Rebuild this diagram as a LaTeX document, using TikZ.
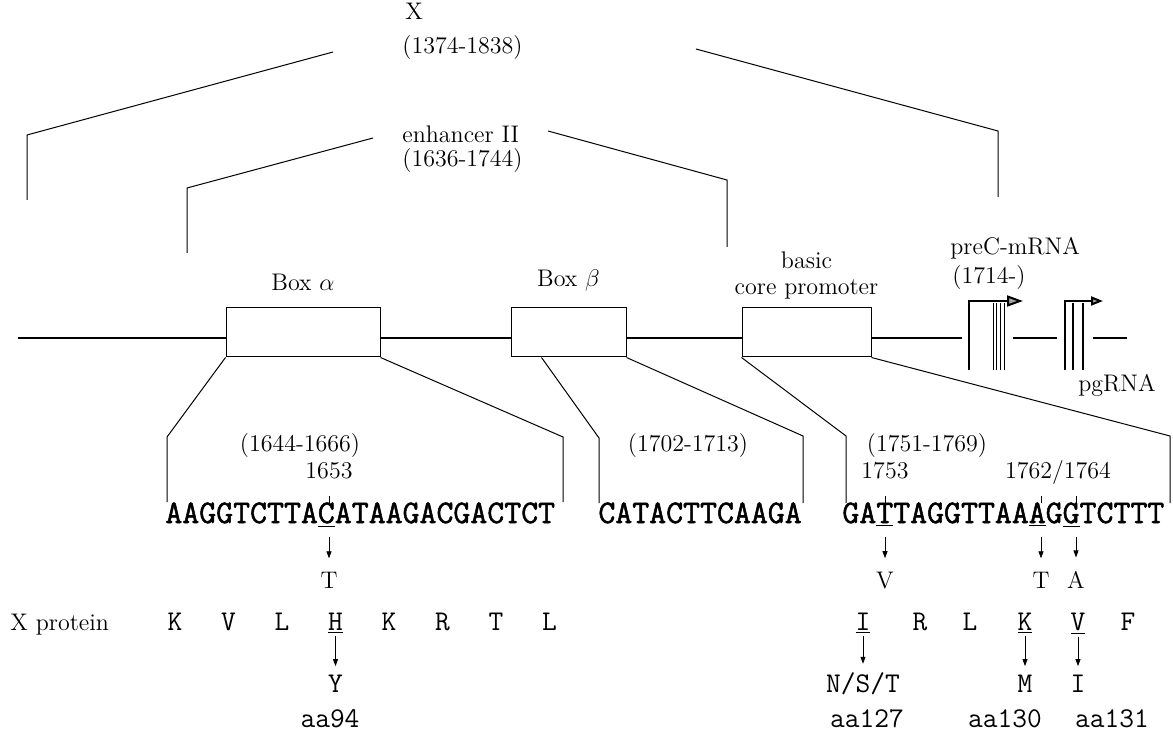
\documentclass[tikz,border=0pt]{standalone}
\usepackage{fontspec}
\newfontfamily\seqfam[FakeBold=1.6]{Latin Modern Mono}
\newfontfamily\resfam{Latin Modern Mono}
\usetikzlibrary{positioning,arrows.meta}

\tikzset{
  txt/.style={inner sep=0pt, font=\fontsize{12}{13}\selectfont},
  nt/.style={inner sep=0pt, anchor=base west, font=\seqfam\fontsize{16.45}{18}\selectfont},
  res/.style={inner sep=0pt, anchor=base, font=\resfam\fontsize{14.3}{16}\selectfont},
  region/.style={draw, line width=0.5pt, inner sep=0pt, minimum height=24.5pt},
  dna/.style={line width=1.25pt},
  fan/.style={line width=0.5pt},
  tick/.style={line width=0.4pt},
  subst/.style={line width=0.4pt, -{Triangle[length=3.5pt,width=2.5pt]}},
  tss/.style={line width=1pt, -{Triangle[length=8pt,width=5.5pt,fill=gray!70]}},
  tsstwo/.style={line width=1pt, -{Triangle[length=6pt,width=4.5pt,fill=gray!70]}},
}

\begin{document}
\begin{tikzpicture}[x=0.5pt, y=0.5pt]
\useasboundingbox (0,0) rectangle (1173,-743);

% X gene and enhancer II
\node[txt, anchor=base west] (xgene) at (405,-20) {X};
\node[txt, anchor=base west] (xspan) at (402,-54) {(1374-1838)};
\node[txt, anchor=base west] (enh) at (402,-143) {enhancer II};
\node[txt, anchor=base west] (enhspan) at (402,-167) {(1636-1744)};
\draw[fan] (27,-200) -- (27,-135) -- (333,-52);
\draw[fan] (696,-49) -- (998,-131) -- (998,-197);
\draw[fan] (187,-253) -- (187,-188) -- (373,-138);
\draw[fan] (548,-131) -- (727,-180) -- (727,-247);

% genome with boxes
\node[region, minimum width=77pt] (boxa) at (303,-332.5) {};
\node[region, minimum width=57.5pt] (boxb) at (568.5,-332.5) {};
\node[region, minimum width=64.5pt] (bcp) at (806.5,-332.5) {};
\node[txt, above=8pt of boxa] (labela) {Box $\alpha$};
\node[txt, above=8pt of boxb] (labelb) {Box $\beta$};
\node[txt, align=center, above=4pt of bcp] (labelcp) {basic\\core promoter};

\coordinate (l0) at (18,-338);
\coordinate (l1) at (962,-338);
\draw[dna] (l0) -- (l0 -| boxa.west)
  (boxa.east |- l0) -- (l0 -| boxb.west)
  (boxb.east |- l0) -- (l0 -| bcp.west)
  (bcp.east |- l0) -- (l1);
\draw[dna] (1013,-338) -- (1057,-338);
\draw[dna] (1093,-338) -- (1127,-338);

% transcription starts
\node[txt, anchor=base west] (precm) at (950,-255) {preC-mRNA};
\node[txt, anchor=base west] (precpos) at (952,-284) {(1714-)};
\node[txt, anchor=base] (pgrna) at (1117,-392) {pgRNA};
\draw[tss] (969,-370) -- (969,-301) -- (1023,-301);
\foreach \x in {993,996.5,1000}
  \draw[line width=0.4pt] (\x,-303) -- (\x,-370);
\draw[line width=0.8pt] (1004.5,-303) -- (1004.5,-370);
\draw[tsstwo] (1065,-370) -- (1065,-301) -- (1103,-301);
\foreach \x in {1073,1083}
  \draw[line width=0.8pt] (\x,-303) -- (\x,-370);

% zoom to sequences
\draw[fan] (boxa.south west) -- (167,-437) -- (167,-502);
\draw[fan] (boxa.south east) -- (563,-437) -- (563,-502);
\draw[fan] ([xshift=15.5pt]boxb.south west) -- (599,-438) -- (599,-503);
\draw[fan] (boxb.south east) -- (803,-436) -- (803,-503);
\draw[fan] (bcp.south west) -- (846,-436) -- (846,-503);
\draw[fan] (bcp.south east) -- (1170,-436) -- (1170,-503);

\node[txt, anchor=base] (spana) at (300,-451) {(1644-1666)};
\node[txt, anchor=base] (spanb) at (688,-451) {(1702-1713)};
\node[txt, anchor=base] (spancp) at (927,-451) {(1751-1769)};
\node[txt, anchor=base] (n1653) at (329,-478) {1653};
\node[txt, anchor=base] (n1753) at (885,-478) {1753};
\node[txt, anchor=base] (n1762) at (1058,-478) {1762/1764};

\node[nt] (seqa) at (165,-523) {AAGGTCTTA\underline{C}ATAAGACGACTCT};
\node[nt] (seqb) at (598,-523) {CATACTTCAAGA};
\node[nt] (seqc) at (842,-523) {GA\underline{T}TAGGTTAA\underline{A}G\underline{G}TCTTT};

% point mutations
\foreach \pos/\x/\new in {1653/329/T, 1753/885/V, 1762/1041/T, 1764/1076/A} {
  \coordinate (m\pos) at (\x,-537);
  \node[txt, anchor=base] (s\pos) at (\x,-588) {\new};
  \draw[tick] (\x,-496) -- (\x,-503);
  \draw[subst] (m\pos) -- ([yshift=6.5pt]s\pos.north);
}

% X protein
\node[txt, anchor=base west] (xprot) at (10,-630) {X protein};
\foreach \a [count=\i] in {K,V,L,\underline{H},K,R,T,L}
  \node[res] (pa\i) at ({175+53.5*(\i-1)},-630) {\a};
\foreach \a/\x [count=\i] in {\underline{I}/863,R/920,L/970,\underline{K}/1025,\underline{V}/1078,F/1128}
  \node[res] (pb\i) at (\x,-630) {\a};

\node[res] (rY) at (335.5,-692) {Y};
\node[res] (rNST) at (863,-692) {N/S/T};
\node[res] (rM) at (1025,-692) {M};
\node[res] (rI) at (1078,-692) {I};
\draw[subst, shorten <=1pt, shorten >=4pt] (pa4.south) -- (rY.north);
\draw[subst, shorten <=1pt, shorten >=4pt] (pb1.south) -- (rNST.north -| pb1);
\draw[subst, shorten <=1pt, shorten >=4pt] (pb4.south) -- (rM.north);
\draw[subst, shorten <=1pt, shorten >=4pt] (pb5.south) -- (rI.north);

\node[res] (aa94) at (330,-727) {aa94};
\node[res] (aa127) at (867,-727) {aa127};
\node[res] (aa130) at (1005,-727) {aa130};
\node[res] (aa131) at (1112,-727) {aa131};
\end{tikzpicture}
\end{document}
